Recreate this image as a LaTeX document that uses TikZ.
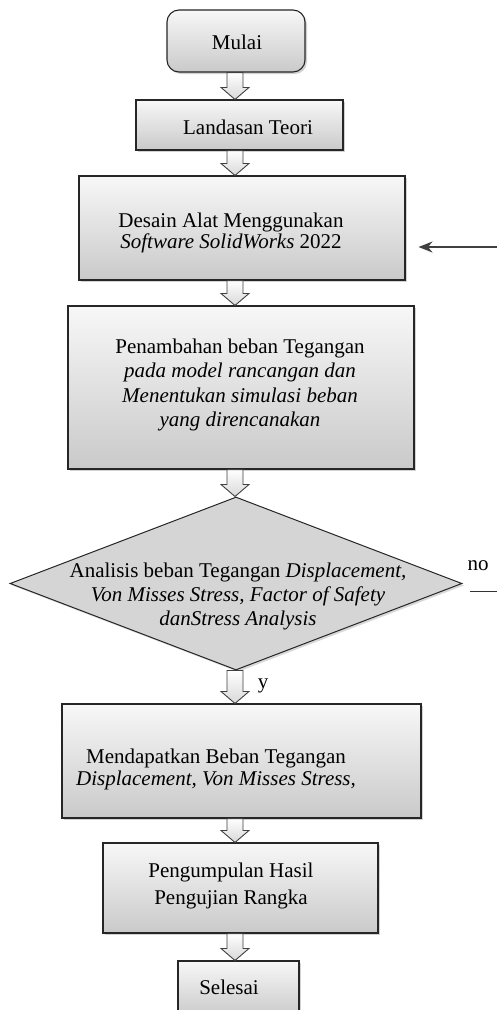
\documentclass[tikz,border=0pt]{standalone}
\usepackage{fontspec}
\setmainfont{Liberation Serif}
\usetikzlibrary{calc,shadows,shapes.geometric,arrows.meta}
\newcommand{\blk}[2]{%
  \draw[blkarrow] let \p1=(#1), \p2=(#2) in
    (\x1-8pt,\y1) -- (\x1+8pt,\y1) -- (\x1+8pt,\y2+12pt) -- (\x1+14pt,\y2+12pt)
    -- (\x1,\y2) -- (\x1-14pt,\y2+12pt) -- (\x1-8pt,\y2+12pt) -- cycle;}
\begin{document}
\begin{tikzpicture}[x=1pt,y=-1pt,
  box/.style={draw=black!85, line width=1.1pt, top color=gray!6, bottom color=gray!42,
    inner sep=0pt, drop shadow={shadow xshift=2pt, shadow yshift=-2pt, opacity=0.35}},
  txt/.style={align=center, inner sep=0pt, font=\fontsize{21}{#1}\selectfont},
  txt/.default=24,
  blkarrow/.style={draw=black!75, line width=0.9pt, top color=white, bottom color=gray!30},
  lbl/.style={inner sep=0pt, font=\fontsize{21}{24}\selectfont}]
\useasboundingbox (0,0) rectangle (497,1010);
\fill[white] (0,0) rectangle (497,1010);
\coordinate (ax) at (235,0);
% boxes
\node[box, rounded corners=12pt, minimum width=138pt, minimum height=62pt] (mulai) at (236,41) {};
\node[box, minimum width=207pt, minimum height=50pt] (teori) at (239.5,125) {};
\node[box, minimum width=326pt, minimum height=104pt] (desain) at (242,228) {};
\node[box, minimum width=346pt, minimum height=163pt] (tambah) at (241,387.5) {};
\node[diamond, draw=black!85, line width=1pt, fill=gray!33, inner sep=0pt,
  minimum width=452pt, minimum height=173pt,
  drop shadow={shadow xshift=2pt, shadow yshift=-2pt, opacity=0.3}] (analisis) at (236,583.5) {};
\node[box, minimum width=359pt, minimum height=114pt] (dapat) at (241.5,761) {};
\node[box, minimum width=275pt, minimum height=90pt] (kumpul) at (240.5,888) {};
\node[box, minimum width=121pt, minimum height=56pt] (selesai) at (238.5,989) {};
% texts
\node[txt] (tmulai) at (237,42) {Mulai};
\node[txt] (tteori) at (248,127) {Landasan Teori};
\node[txt=19] (tdesain) at (231,233) {Desain Alat Menggunakan\\\textit{Software SolidWorks} 2022};
\node[txt=24.5] (ttambah) at (240,385) {Penambahan beban Tegangan\\\textit{pada model rancangan dan}\\\textit{Menentukan simulasi beban}\\\textit{yang direncanakan}};
\node[txt=24] (tanalisis) at (238,596) {Analisis beban Tegangan \textit{Displacement,}\\\textit{Von Misses Stress, Factor of Safety}\\\textit{danStress Analysis}};
\node[txt=22] (tdapat) at (216,769) {Mendapatkan Beban Tegangan\\\textit{Displacement, Von Misses Stress,}};
\node[txt=27] (tkumpul) at (231,886) {Pengumpulan Hasil\\Pengujian Rangka};
\node[txt] (tselesai) at (229,987) {Selesai};
% block arrows
\blk{mulai.south -| ax}{teori.north -| ax}
\blk{teori.south -| ax}{desain.north -| ax}
\blk{desain.south -| ax}{tambah.north -| ax}
\blk{tambah.south -| ax}{analisis.north -| ax}
\blk{analisis.south -| ax}{dapat.north -| ax}
\blk{dapat.south -| ax}{kumpul.north -| ax}
\blk{kumpul.south -| ax}{selesai.north -| ax}
\node[lbl] (ylab) at (263,686) {y};
% loop-back pieces
\coordinate (loopin) at (497,247);
\draw[black!75, line width=1.6pt, -{Stealth[length=14pt,width=11pt]}, shorten >=13pt] (loopin) -- (desain.east |- loopin);
\node[lbl] (nolab) at (478,566) {no};
\coordinate (nostart) at (470,591);
\coordinate (noend) at (497,591);
\draw[black!80, line width=1pt] (nostart) -- (noend);
\end{tikzpicture}
\end{document}
